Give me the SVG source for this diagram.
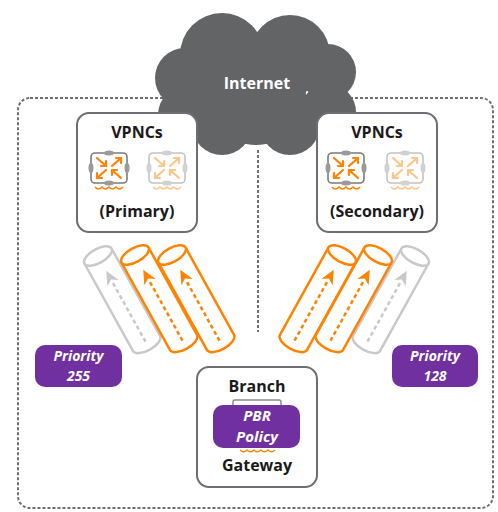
<svg xmlns="http://www.w3.org/2000/svg" xmlns:xlink="http://www.w3.org/1999/xlink" width="498" height="512" viewBox="0 0 498 512">
  <style>
    .lbl { font-family: "Open Sans", "Liberation Sans", sans-serif; font-weight: 700; font-size: 16px; fill: #1a1a1a; text-anchor: middle; }
    .pri { font-family: "Open Sans", "Liberation Sans", sans-serif; font-weight: 700; font-style: italic; font-size: 14px; fill: #ffffff; text-anchor: middle; }
    .box { fill: #ffffff; stroke: #6d6e71; stroke-width: 2; }
    .purple { fill: #7030a0; }
    .dash { fill: none; stroke: #6d6e71; stroke-width: 2; stroke-dasharray: 3 2; }
    .orange { color: #ff8300; }
    .grey { color: #c9c9c9; }
  </style>
  <defs>
    <!-- tunnel cylinder, axis along +y, top face at origin -->
    <g id="tube">
      <path d="M-15.5,0 V100 A15.5,7 0 0 0 15.5,100 V0" fill="#ffffff" stroke="currentColor" stroke-width="2.5"/>
      <ellipse cx="0" cy="0" rx="15.5" ry="7" fill="#ffffff" stroke="currentColor" stroke-width="2.5"/>
      <line x1="0" y1="98" x2="0" y2="28" stroke="currentColor" stroke-width="2.5" stroke-dasharray="4 3"/>
      <path d="M-6.5,31 L0,17 L6.5,31 L0,27 Z" fill="currentColor"/>
    </g>
    <!-- gateway appliance icon, centred on origin -->
    <g id="gw">
      <rect x="-18" y="-15" width="36" height="30" rx="4" fill="#ffffff" stroke="#7a7a7a" stroke-width="1.6"/>
      <ellipse cx="0" cy="-15" rx="5" ry="2.5" fill="#9a9a9a"/>
      <ellipse cx="0" cy="15" rx="5" ry="2.5" fill="#9a9a9a"/>
      <ellipse cx="-18" cy="0" rx="2.5" ry="5" fill="#9a9a9a"/>
      <ellipse cx="18" cy="0" rx="2.5" ry="5" fill="#9a9a9a"/>
      <g fill="none" stroke="#ff8300" stroke-width="2.2" stroke-linecap="round" stroke-linejoin="round">
        <line x1="-12" y1="-10" x2="-3" y2="-2"/>
        <polyline points="-8,-2 -3,-2 -3,-7"/>
        <line x1="3" y1="-2" x2="12" y2="-10"/>
        <polyline points="7,-10 12,-10 12,-5"/>
        <line x1="-3" y1="2" x2="-12" y2="10"/>
        <polyline points="-12,5 -12,10 -7,10"/>
        <line x1="12" y1="10" x2="3" y2="2"/>
        <polyline points="3,7 3,2 8,2"/>
      </g>
      <path d="M-14,19 q3.5,4 7,0 q3.5,4 7,0 q3.5,4 7,0 q3.5,4 7,0" fill="none" stroke="#ff8300" stroke-width="1.5"/>
    </g>
  </defs>

  <!-- site boundary -->
  <rect id="site" class="dash" x="18" y="98" width="475" height="410" rx="12"/>

  <!-- internet cloud -->
  <g id="internet">
    <g fill="#636466">
      <circle cx="222" cy="55" r="42"/>
      <circle cx="290" cy="55" r="40"/>
      <circle cx="328" cy="72" r="28"/>
      <circle cx="328" cy="112" r="28"/>
      <circle cx="185" cy="78" r="30"/>
      <circle cx="188" cy="115" r="30"/>
      <circle cx="222" cy="125" r="30"/>
      <circle cx="290" cy="125" r="30"/>
      <circle cx="256" cy="95" r="50"/>
    </g>
    <text class="lbl" x="257" y="89" style="fill:#ffffff">Internet</text>
  </g>

  <!-- connectors -->
  <g id="connectors">
    <line class="dash" x1="258" y1="150" x2="258" y2="332"/>
    <g id="tunnels-primary">
      <use xlink:href="#tube" class="grey" transform="translate(98,256) rotate(-29)"/>
      <use xlink:href="#tube" class="orange" transform="translate(135,255) rotate(-29)"/>
      <use xlink:href="#tube" class="orange" transform="translate(172,255) rotate(-29)"/>
    </g>
    <g id="tunnels-secondary">
      <use xlink:href="#tube" class="grey" transform="translate(415,256) rotate(29)"/>
      <use xlink:href="#tube" class="orange" transform="translate(378,255) rotate(29)"/>
      <use xlink:href="#tube" class="orange" transform="translate(342,255) rotate(29)"/>
    </g>
  </g>

  <!-- primary VPNCs -->
  <g id="vpnc-primary">
    <rect class="box" x="77" y="113" width="120" height="119" rx="12"/>
    <text class="lbl" x="137" y="138">VPNCs</text>
    <use xlink:href="#gw" transform="translate(109,168)"/>
    <use xlink:href="#gw" transform="translate(167,168)" opacity="0.45"/>
    <text class="lbl" x="137" y="217">(Primary)</text>
  </g>

  <!-- secondary VPNCs -->
  <g id="vpnc-secondary">
    <rect class="box" x="317" y="113" width="120" height="119" rx="12"/>
    <text class="lbl" x="377" y="138">VPNCs</text>
    <use xlink:href="#gw" transform="translate(346,168)"/>
    <use xlink:href="#gw" transform="translate(405,168)" opacity="0.45"/>
    <text class="lbl" x="377" y="217">(Secondary)</text>
  </g>

  <!-- tunnel priorities -->
  <g id="priority-255">
    <rect class="purple" x="35" y="345" width="87" height="42" rx="10"/>
    <text class="pri" x="78.5" y="361">Priority</text>
    <text class="pri" x="78.5" y="380.5">255</text>
  </g>
  <g id="priority-128">
    <rect class="purple" x="392" y="345" width="86" height="42" rx="10"/>
    <text class="pri" x="435" y="361">Priority</text>
    <text class="pri" x="435" y="380.5">128</text>
  </g>

  <!-- branch gateway -->
  <g id="branch-gateway">
    <rect class="box" x="197" y="367" width="120" height="120" rx="12"/>
    <text class="lbl" x="257" y="392">Branch</text>
    <path d="M233,405 v-3 q0,-2 2,-2 h44 q2,0 2,2 v3" fill="none" stroke="#8a8a8a" stroke-width="1.5"/>
    <rect class="purple" x="213" y="405" width="87" height="43" rx="10"/>
    <text class="pri" x="257" y="420.5" style="font-size:15px">PBR</text>
    <text class="pri" x="257" y="441.5" style="font-size:15px">Policy</text>
    <path d="M240,450 q3.5,3.5 7,0 q3.5,3.5 7,0 q3.5,3.5 7,0 q3.5,3.5 7,0 q3.5,3.5 7,0" fill="none" stroke="#ff8300" stroke-width="1.3"/>
    <text class="lbl" x="257" y="471">Gateway</text>
  </g>
</svg>
